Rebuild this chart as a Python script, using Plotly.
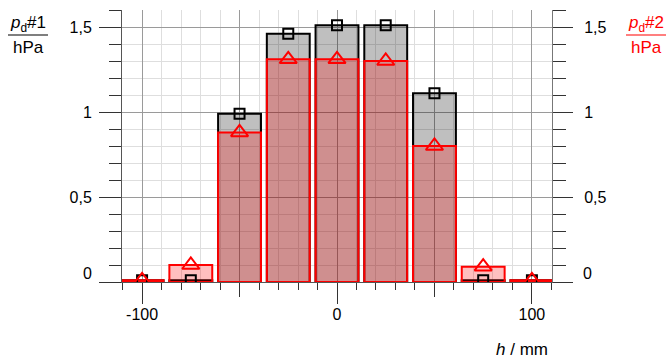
import plotly.graph_objects as go

# Messpositionen und Druckwerte
h = [-100, -75, -50, -25, 0, 25, 50, 75, 100]
pd1 = [0.01, 0.01, 0.99, 1.46, 1.51, 1.51, 1.11, 0.01, 0.01]
pd2 = [0.01, 0.10, 0.88, 1.31, 1.31, 1.30, 0.80, 0.09, 0.01]

x_ticks = [-100, 0, 100]
x_labels = ["-100", "0", "100"]
y_ticks = [0, 0.5, 1, 1.5]
y_labels = ["0", "0,5", "1", "1,5"]

W, H = 668, 356
L, R, T, B = 122, 552, 10, 282  # Plotbereich in Pixeln


def px(x):
    return (x - L) / (R - L)


def py(y):
    return (B - y) / (B - T)


FONT = "Liberation Sans, Arial, sans-serif"

fig = go.Figure()

fig.add_trace(go.Bar(
    x=h, y=pd1, width=22,
    marker=dict(color="rgba(0,0,0,0.25)", line=dict(color="black", width=2)),
))
fig.add_trace(go.Bar(
    x=h, y=pd2, width=22,
    marker=dict(color="rgba(255,0,0,0.25)", line=dict(color="#ff0000", width=2)),
))
fig.add_trace(go.Scatter(
    x=h, y=pd1, mode="markers",
    marker=dict(symbol="square-open", size=10, color="black", line=dict(width=2)),
))
fig.add_trace(go.Scatter(
    x=h, y=pd2, mode="markers",
    marker=dict(symbol="triangle-up-open", size=15, color="#ff0000", line=dict(width=2)),
))
# Dummy für die rechte Achse und die langen x-Ticks
fig.add_trace(go.Scatter(x=[0], y=[0], mode="markers", marker=dict(opacity=0),
                         xaxis="x2", yaxis="y2", hoverinfo="skip"))

xr = [-110.3, 110.3]
yr = [0, 1.6]

# "0" wird etwas über der Achse beschriftet -> per Annotation
y_text = [""] + y_labels[1:]

fig.update_layout(
    width=W, height=H,
    margin=dict(l=L, r=W - R, t=T, b=H - B),
    paper_bgcolor="white", plot_bgcolor="white",
    showlegend=False,
    barmode="overlay",
    font=dict(family=FONT, size=16, color="black"),
    xaxis=dict(
        range=xr, tickvals=[-100, -50, 0, 50, 100], ticktext=["", "", "", "", ""],
        ticks="outside", ticklen=14, tickcolor="#333", tickwidth=1,
        showgrid=True, gridcolor="#9a9a9a", gridwidth=1,
        showline=True, linecolor="#555", linewidth=1, zeroline=False,
        minor=dict(dtick=10, ticks="outside", ticklen=7, tickcolor="#333",
                   showgrid=True, gridcolor="#dedede"),
    ),
    xaxis2=dict(
        range=xr, overlaying="x", anchor="y", side="bottom",
        tickvals=x_ticks, ticktext=x_labels, tickfont=dict(size=16),
        ticks="outside", ticklen=21, tickcolor="#333", ticklabelstandoff=-3,
        showgrid=False, zeroline=False, showline=False,
    ),
    yaxis=dict(
        range=yr, tickvals=y_ticks, ticktext=y_text,
        ticks="outside", ticklen=22, tickcolor="#333", ticklabelstandoff=4,
        showgrid=True, gridcolor="#9a9a9a",
        showline=True, linecolor="#555", zeroline=False,
        minor=dict(dtick=0.1, ticks="outside", ticklen=12, tickcolor="#333",
                   showgrid=True, gridcolor="#dedede"),
    ),
    yaxis2=dict(
        range=yr, overlaying="y", side="right", anchor="x",
        tickvals=y_ticks, ticktext=y_text,
        ticks="outside", ticklen=20, tickcolor="#333", ticklabelstandoff=8,
        showgrid=False, showline=True, linecolor="#777", linewidth=1, zeroline=False,
        minor=dict(dtick=0.1, ticks="outside", ticklen=13, tickcolor="#333"),
    ),
)

# Nullbeschriftung links und rechts
fig.add_annotation(x=px(94), y=py(273), xref="paper", yref="paper", text=y_labels[0],
                   showarrow=False, xanchor="right", yanchor="middle",
                   font=dict(size=16))
fig.add_annotation(x=px(581), y=py(273), xref="paper", yref="paper", text=y_labels[0],
                   showarrow=False, xanchor="left", yanchor="middle",
                   font=dict(size=16))

# Achsentitel als Bruch
for cx, label, color in [(28, "<i>p</i><sub>d</sub>#1", "black"),
                         (646, "<i>p</i><sub>d</sub>#2", "#ff0000")]:
    fig.add_annotation(x=px(cx), y=py(24), xref="paper", yref="paper",
                       text=label, showarrow=False, font=dict(size=17, color=color),
                       xanchor="center", yanchor="middle")
    fig.add_annotation(x=px(cx), y=py(48), xref="paper", yref="paper",
                       text="hPa", showarrow=False, font=dict(size=17, color=color),
                       xanchor="center", yanchor="middle")
    fig.add_shape(type="line", xref="paper", yref="paper",
                  x0=px(cx - 20), x1=px(cx + 20), y0=py(35), y1=py(35),
                  line=dict(color=color, width=1.2))

fig.add_annotation(x=px(522), y=py(349), xref="paper", yref="paper",
                   text="<i>h</i> / mm", showarrow=False, font=dict(size=17),
                   xanchor="center", yanchor="middle")

# Seitenrand entfernen, damit die Figur genau ins Fenster passt
fig.write_html("out.html", config={"displayModeBar": False},
               post_script="document.body.style.margin='0';")
